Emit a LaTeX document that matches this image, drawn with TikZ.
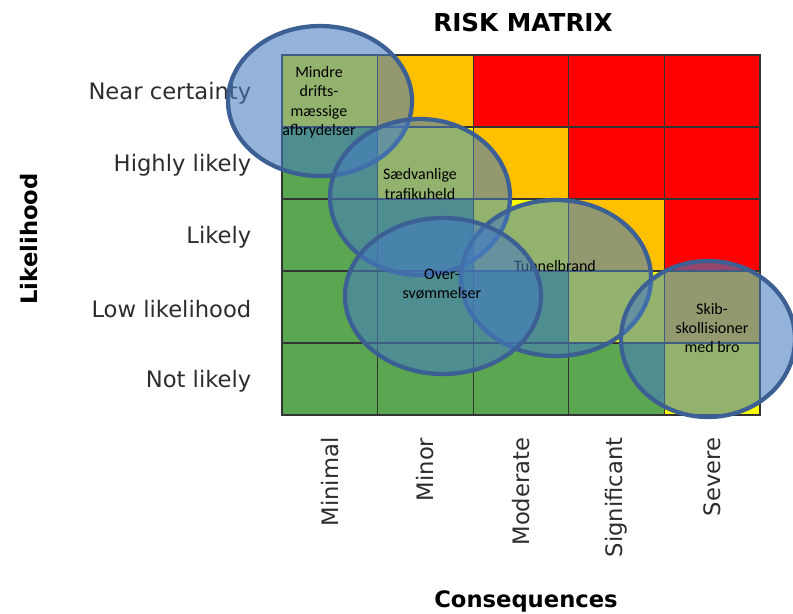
\documentclass[tikz,border=0pt]{standalone}
\usepackage{fontspec}
\setmainfont{DejaVu Sans}
\newfontfamily\blobfont{Carlito}
\definecolor{riskgreen}{RGB}{91,166,80}
\definecolor{riskyellow}{RGB}{255,255,0}
\definecolor{riskorange}{RGB}{255,192,0}
\definecolor{riskred}{RGB}{255,0,0}
\definecolor{blobfill}{RGB}{69,124,191}
\definecolor{blobline}{RGB}{60,95,148}
\definecolor{labelgray}{RGB}{45,45,45}
\tikzset{
  cell/.style={draw=black!80, line width=0.9pt},
  blob/.style={fill=blobfill, fill opacity=0.58, draw=blobline, line width=3.2pt},
  blobtext/.style={font=\blobfont\fontsize{12}{14.6}\selectfont, align=center, text=black},
  rowlabel/.style={anchor=east, font=\fontsize{17}{20}\selectfont, text=labelgray},
  collabel/.style={anchor=east, rotate=90, font=\fontsize{17}{20}\selectfont, text=labelgray},
  axistitle/.style={font=\bfseries\fontsize{17}{20}\selectfont},
}
\begin{document}
\begin{tikzpicture}[x=0.75pt, y=-0.75pt]
        \useasboundingbox (0,0) rectangle (793,614);
        % title
        \node[axistitle, font=\bfseries\fontsize{18.5}{22}\selectfont] (title) at (523,23) {RISK MATRIX};
        % coloured cells, top row first
        \foreach \r/\cols in {0/{riskyellow,riskorange,riskred,riskred,riskred},
                              1/{riskgreen,riskyellow,riskorange,riskred,riskred},
                              2/{riskgreen,riskgreen,riskyellow,riskorange,riskred},
                              3/{riskgreen,riskgreen,riskgreen,riskyellow,riskorange},
                              4/{riskgreen,riskgreen,riskgreen,riskgreen,riskyellow}}
            \foreach \c [count=\j from 0] in \cols
                \draw[cell, fill=\c] ({282+95.6*\j},{55+72*\r}) rectangle +(95.6,72);
        % likelihood labels
        \node[rowlabel] (nearcert) at (256,93) {Near certainty};
        \node[rowlabel] (highly) at (256,165) {Highly likely};
        \node[rowlabel] (likely) at (256,237) {Likely};
        \node[rowlabel] (lowlike) at (256,309) {Low likelihood};
        \node[rowlabel] (notlike) at (256,381) {Not likely};
        \node[axistitle, rotate=90] (likelihood) at (29,239) {Likelihood};
        % consequence labels
        \node[collabel] (minimal) at (330,433) {Minimal};
        \node[collabel] (minor) at (425,433) {Minor};
        \node[collabel] (moderate) at (521,433) {Moderate};
        \node[collabel] (signif) at (616,433) {Significant};
        \node[collabel] (severe) at (712,433) {Severe};
        \node[axistitle] (conseq) at (526,601) {Consequences};
        % the hazards
        \draw[blob] (320,101) ellipse [x radius=92, y radius=75];
        \node[blobtext] (mindre) at (319,102) {Mindre\\drifts-\\mæssige\\afbrydelser};
        \draw[blob] (420,197) ellipse [x radius=90, y radius=78];
        \node[blobtext] (saedv) at (420,184) {Sædvanlige\\trafikuheld};
        \draw[blob] (556,278) ellipse [x radius=95, y radius=78];
        \node[blobtext] (tunnel) at (555,266) {Tunnelbrand};
        \draw[blob] (443,296) ellipse [x radius=98, y radius=78];
        \node[blobtext] (oversv) at (442,284) {Over-\\svømmelser};
        \draw[blob] (708,339) ellipse [x radius=87, y radius=78];
        \node[blobtext] (skib) at (712,328) {Skib-\\skollisioner\\med bro};
    \end{tikzpicture}
\end{document}
